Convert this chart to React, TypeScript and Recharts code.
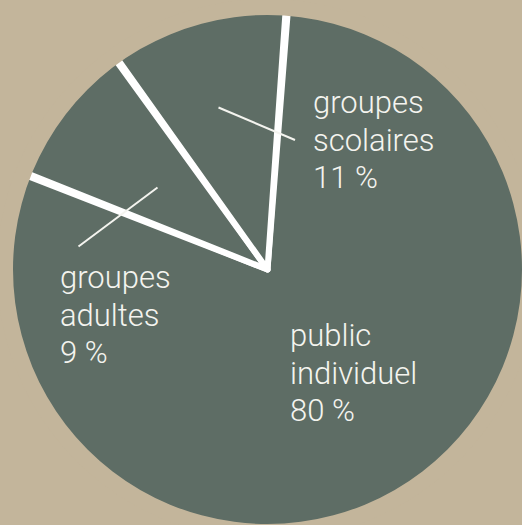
import { Pie, PieChart, Cell } from 'recharts';

const categories = ['public individuel', 'groupes adultes', 'groupes scolaires'];
const shares = [80, 9, 11];
const ringValue = [1];

const BG = '#c3b59b';
const SLICE = '#5e6d65';
const INK = '#f4f4ef';

const W = 522;
const H = 525;
const CX = 267.5;
const CY = 269.5;
const R = 254.5;
const START = 85.5; // degrees, recharts convention

// label placement relative to the pie centre, by slice index
const LABEL_POS = [
  { dx: 22.5, dy: 76.5, lead: null },
  { dx: -207.5, dy: 18.5, lead: [-189, -23, -110, -82] },
  { dx: 45.5, dy: -156.5, lead: [-49, -162, 27.5, -129.5] },
];
const LINE_STEP = 37.5;

const data = categories.map((name, i) => ({ name, value: shares[i] }));
const ring = ringValue.map((value) => ({ name: 'edge', value }));

function SliceLabel(props: any) {
  const { cx, cy, index } = props;
  const pos = LABEL_POS[index];
  const item = data[index];
  const words = item.name.split(' ');
  const lines = [...words, `${item.value} %`];
  return (
    <g>
      {pos.lead && (
        <line
          x1={cx + pos.lead[0]} y1={cy + pos.lead[1]}
          x2={cx + pos.lead[2]} y2={cy + pos.lead[3]}
          stroke={INK} strokeWidth={2}
        />
      )}
      <text
        x={cx + pos.dx}
        y={cy + pos.dy}
        fill={INK}
        fontSize={31}
        fontWeight={300}
        fontFamily="Roboto, 'Liberation Sans', sans-serif"
        textAnchor="start"
      >
        {lines.map((t, i) => (
          <tspan key={i} x={cx + pos.dx} y={cy + pos.dy + i * LINE_STEP}>{t}</tspan>
        ))}
      </text>
    </g>
  );
}

export default function App() {
  return (
    <div style={{ position: 'fixed', left: 0, top: 0, width: W, height: H, background: BG, overflow: 'hidden' }}>
      <PieChart width={W} height={H} margin={{ top: 0, right: 0, bottom: 0, left: 0 }}>
        <Pie
          data={data}
          dataKey="value"
          nameKey="name"
          cx={CX}
          cy={CY}
          innerRadius={0}
          outerRadius={R + 4}
          startAngle={START}
          endAngle={START - 360}
          paddingAngle={0.5}
          stroke="#ffffff"
          strokeWidth={6}
          strokeLinejoin="round"
          label={SliceLabel}
          labelLine={false}
          isAnimationActive={false}
        >
          {data.map((d) => <Cell key={d.name} fill={SLICE} stroke="#ffffff" strokeWidth={6} />)}
        </Pie>
        <Pie
          data={ring}
          dataKey="value"
          cx={CX}
          cy={CY}
          innerRadius={R}
          outerRadius={R + 16}
          startAngle={0}
          endAngle={360}
          fill={BG}
          stroke="none"
          isAnimationActive={false}
        />
      </PieChart>
    </div>
  );
}
